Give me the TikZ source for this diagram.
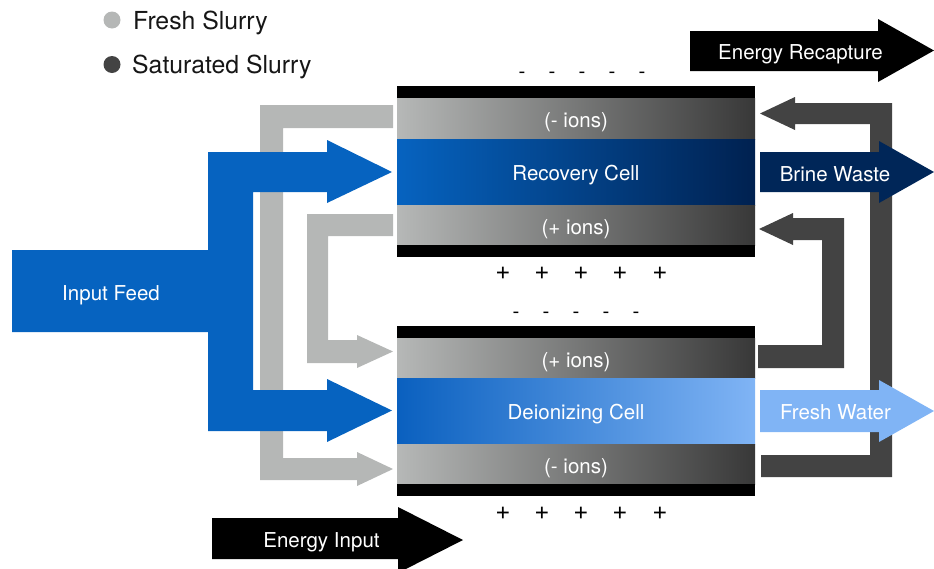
\documentclass[tikz,border=0pt]{standalone}
\usepackage{fontspec}
\setmainfont{TeX Gyre Heros}
\definecolor{feedblue}{RGB}{6,99,192}
\definecolor{navyblue}{RGB}{0,38,88}
\definecolor{recright}{RGB}{0,33,80}
\definecolor{freshblue}{RGB}{128,180,245}
\definecolor{deileft}{RGB}{10,96,191}
\definecolor{slurrylight}{RGB}{181,183,182}
\definecolor{slurrydark}{RGB}{67,67,67}
\definecolor{bandlight}{RGB}{182,184,183}
\definecolor{banddark}{RGB}{56,56,56}
\definecolor{inktext}{RGB}{22,22,22}
\begin{document}
\begin{tikzpicture}[x=1pt,y=-1pt,
  lbl/.style={font=\fontsize{20.5}{24}\selectfont, text=white, anchor=base, inner sep=0pt},
  legendtext/.style={font=\fontsize{24.8}{28}\selectfont, text=inktext, anchor=base west, inner sep=0pt},
  sign/.style={font=\fontsize{20.5}{24}\selectfont, text=black, anchor=base, inner sep=0pt},
  plussign/.style={font=\fontsize{26}{30}\selectfont, text=black, anchor=base, inner sep=0pt},
  plate/.style={fill=black},
  band/.style={left color=bandlight, right color=banddark},
  freshpipe/.style={fill=slurrylight},
  spentpipe/.style={fill=slurrydark}]
\useasboundingbox (0,0) rectangle (934,568);
\clip (0,0) rectangle (934,568);

% legend
\fill[slurrylight] (112,20) circle (8.5);
\fill[slurrydark] (112,64.5) circle (8.5);
\node[legendtext] (lgfresh) at (133,29) {Fresh Slurry};
\node[legendtext] (lgsat) at (132,73) {Saturated Slurry};

% fresh slurry pipes on the left
\path[freshpipe] (393,105) -- (260,105) -- (260,480) -- (357,480) -- (357,486)
  -- (393,469) -- (357,452) -- (357,458) -- (283,458) -- (283,128) -- (393,128) -- cycle;
\path[freshpipe] (393,214) -- (307,214) -- (307,363) -- (357,363) -- (357,368)
  -- (393,351.5) -- (357,335) -- (357,340) -- (328,340) -- (328,236) -- (393,236) -- cycle;

% input feed splitting into both cells
\fill[feedblue] (12,250) -- (208,250) -- (208,152) -- (327,152) -- (327,140)
  -- (392,172) -- (327,203) -- (327,192) -- (253,192) -- (253,390) -- (327,390)
  -- (327,379) -- (392,410.5) -- (327,442) -- (327,431) -- (208,431) -- (208,332)
  -- (12,332) -- cycle;

% saturated slurry pipes on the right
\path[spentpipe] (761,455) -- (870,455) -- (870,124) -- (795,124) -- (795,130)
  -- (760,113.5) -- (795,97) -- (795,103) -- (892,103) -- (892,477) -- (761,477) -- cycle;
\path[spentpipe] (758,345) -- (822,345) -- (822,240) -- (793,240) -- (793,245)
  -- (759,229) -- (793,213) -- (793,218) -- (844,218) -- (844,368) -- (758,368) -- cycle;

% outputs
\fill[navyblue] (760,152) -- (879,152) -- (879,141) -- (934,172) -- (879,203)
  -- (879,192) -- (760,192) -- cycle;
\fill[freshblue] (760,390) -- (879,390) -- (879,380) -- (934,411) -- (879,442)
  -- (879,432) -- (760,432) -- cycle;

% energy arrows
\fill[black] (690,31) -- (878,31) -- (878,19) -- (934,50.5) -- (878,82) -- (878,71)
  -- (690,71) -- cycle;
\fill[black] (212,518) -- (398,518) -- (398,507) -- (463,540) -- (398,573) -- (398,559)
  -- (212,559) -- cycle;

% recovery cell
\path[plate] (397,86) rectangle (755,98);
\shade[band] (397,98) rectangle (755,139);
\shade[left color=feedblue, right color=recright] (397,139) rectangle (755,205);
\shade[band] (397,205) rectangle (755,245);
\path[plate] (397,245) rectangle (755,257);

% deionizing cell
\path[plate] (397,326) rectangle (755,338);
\shade[band] (397,338) rectangle (755,378);
\shade[left color=deileft, right color=freshblue] (397,378) rectangle (755,444);
\shade[band] (397,444) rectangle (755,484);
\path[plate] (397,484) rectangle (755,496);

% electrode charges
\foreach \i/\x in {1/522,2/552,3/582,4/612,5/642}
  \node[sign] (rminus\i) at (\x,78.5) {-};
\foreach \i/\x in {1/503,2/542,3/581,4/620,5/660}
  \node[plussign] (rplus\i) at (\x,279.5) {+};
\foreach \i/\x in {1/516,2/546,3/576,4/606,5/636}
  \node[sign] (dminus\i) at (\x,318.5) {-};
\foreach \i/\x in {1/503,2/542,3/581,4/620,5/660}
  \node[plussign] (dplus\i) at (\x,519) {+};

% labels
\node[lbl] (recneg) at (576,127.5) {(- ions)};
\node[lbl] (rec) at (576,180) {Recovery Cell};
\node[lbl] (recpos) at (576,234) {(+ ions)};
\node[lbl] (deipos) at (576,367) {(+ ions)};
\node[lbl] (dei) at (576,419) {Deionizing Cell};
\node[lbl] (deineg) at (576,473) {(- ions)};
\node[lbl] (feed) at (111,300) {Input Feed};
\node[lbl] (recap) at (800.5,59) {Energy Recapture};
\node[lbl] (brine) at (835,181) {Brine Waste};
\node[lbl] (fresh) at (835.5,419) {Fresh Water};
\node[lbl] (einput) at (321.5,547) {Energy Input};
\end{tikzpicture}
\end{document}
